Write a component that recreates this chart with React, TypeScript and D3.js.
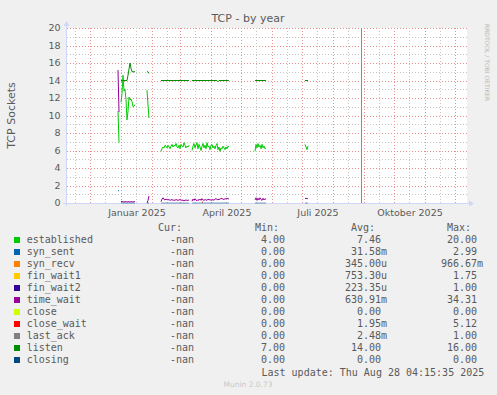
import React from "react";
import * as d3 from "d3";

type Run = { start: string; values: number[] };

// legend table
const fieldNames = ["established", "syn_sent", "syn_recv", "fin_wait1", "fin_wait2", "time_wait", "close", "close_wait", "last_ack", "listen", "closing"];
const fieldColors = ["#00CC00", "#0066B3", "#FF8000", "#FFCC00", "#330099", "#990099", "#CCFF00", "#FF0000", "#808080", "#008F00", "#00487D"];
const curValues = ["-nan", "-nan", "-nan", "-nan", "-nan", "-nan", "-nan", "-nan", "-nan", "-nan", "-nan"];
const minValues = ["4.00", "0.00", "0.00", "0.00", "0.00", "0.00", "0.00", "0.00", "0.00", "7.00", "0.00"];
const avgValues = ["7.46", "31.58m", "345.00u", "753.30u", "223.35u", "630.91m", "0.00", "1.95m", "2.48m", "14.00", "0.00"];
const maxValues = ["20.00", "2.99", "966.67m", "1.75", "1.00", "34.31", "0.00", "5.12", "1.00", "16.00", "0.00"];

// time axis
const xDomain = ["2024-11-08", "2025-12-13"];
const quarterLabels = ["Januar 2025", "April 2025", "Juli 2025", "Oktober 2025"];
const quarterLabelDates = ["2025-01-17", "2025-04-17", "2025-07-17", "2025-10-17"];
const nowMarker = "2025-08-29";
const lastUpdate = "Last update: Thu Aug 28 04:15:35 2025";

// daily values, one run per stretch of data
const establishedRuns: Run[] = [
  { start: "2024-12-29", values: [10.5, 6.9] },
  { start: "2025-01-01", values: [11.5, 12.5, 14.6, 12.8, 13.0, 11.8, 9.5, 10.5, 12.1, 11.8, 11.9, 11.6, 11.0, 11.1, 11.2] },
  { start: "2025-01-27", values: [12.9, 11.2, 9.7] },
  { start: "2025-02-10", values: [5.9, 6.2, 6.4, 6.3, 6.6, 6.5, 6.3, 6.6, 6.4, 6.2, 6.5, 6.7, 6.4, 6.6, 6.5, 6.8, 6.4, 6.3, 6.6, 6.2, 6.7, 6.5, 6.4, 6.9, 6.6, 6.3, 6.5, 6.4, 6.6] },
  { start: "2025-03-13", values: [6.0, 6.5, 6.8, 6.3, 6.6, 6.9, 6.2, 6.7, 6.4, 6.0, 6.5, 6.8, 6.3, 6.6, 6.2, 6.9, 6.4, 6.5, 6.1, 6.6, 6.7, 6.3, 6.5, 6.2, 6.6, 6.8, 6.1, 6.4, 5.9, 6.3, 6.2, 6.5, 6.3, 6.1, 6.4, 6.2, 6.5, 6.4] },
  { start: "2025-05-15", values: [5.9, 6.7, 6.3, 6.8, 6.4, 6.6, 6.2, 6.7, 6.3, 6.5, 6.2, 6.3] },
  { start: "2025-07-04", values: [6.7, 6.4, 6.1, 6.5] },
];

const synSentRuns: Run[] = [{ start: "2024-12-29", values: [1.45, 1.35] }];

const timeWaitRuns: Run[] = [
  { start: "2024-12-29", values: [15.2, 10.4] },
  { start: "2025-01-01", values: [0.2, 0.15, 0.15, 0.1, 0.15, 0.15, 0.1, 0.15, 0.15, 0.1, 0.15, 0.15, 0.1, 0.15, 0.15] },
  { start: "2025-01-27", values: [0.0, 0.3, 0.8] },
  { start: "2025-02-10", values: [0.15, 0.45, 0.6, 0.4, 0.35, 0.45, 0.4, 0.35, 0.4, 0.3, 0.35, 0.4, 0.3, 0.35, 0.3, 0.4, 0.35, 0.3, 0.35, 0.4, 0.3, 0.35, 0.3, 0.25, 0.3, 0.35, 0.3, 0.3, 0.35] },
  { start: "2025-03-13", values: [0.2, 0.45, 0.3, 0.5, 0.35, 0.25, 0.4, 0.3, 0.45, 0.3, 0.5, 0.35, 0.3, 0.4, 0.35, 0.3, 0.45, 0.35, 0.4, 0.3, 0.35, 0.4, 0.3, 0.45, 0.5, 0.4, 0.35, 0.45, 0.4, 0.55, 0.5, 0.45, 0.4, 0.5, 0.45, 0.55, 0.5, 0.45] },
  { start: "2025-05-15", values: [0.35, 0.6, 0.3, 0.55, 0.35, 0.6, 0.4, 0.3, 0.55, 0.35, 0.5, 0.4] },
  { start: "2025-07-04", values: [0.5, 0.55, 0.5, 0.5] },
];

const closeWaitRuns: Run[] = [{ start: "2025-03-23", values: [0.1, 0.1] }];

const listenRuns: Run[] = [
  { start: "2025-01-01", values: [14, 14, 14, 14, 14, 14, 14, 14.6, 15.3, 16, 15.4, 15, 15, 15, 15] },
  { start: "2025-01-27", values: [15, 15, 14.8] },
  { start: "2025-02-10", values: [14, 14, 14, 14, 14, 14, 14, 14, 14, 14, 14, 14, 14, 14, 14, 14, 14, 14, 14, 14, 14, 14, 14, 14, 14, 14, 14, 14, 14] },
  { start: "2025-03-13", values: [14, 14, 14, 14, 14, 14, 14, 14, 14, 14, 14, 14, 14, 14, 14, 14, 14, 14, 14, 14, 14, 14, 14, 14, 14, 14, 13.85, 14, 14, 14, 14, 14, 14, 14, 14, 14, 14, 14] },
  { start: "2025-05-15", values: [14, 14, 14, 14, 14, 14, 14, 14, 14, 14, 14, 14] },
  { start: "2025-07-04", values: [14, 14, 14, 14] },
];

// the idle states (closing etc.) sit at zero while data exists
const idleSpans = [
  ["2025-01-01", "2025-01-15"],
  ["2025-01-27", "2025-01-29"],
  ["2025-02-10", "2025-03-10"],
  ["2025-03-13", "2025-04-19"],
  ["2025-05-15", "2025-05-26"],
  ["2025-07-04", "2025-07-07"],
];

const W = 497;
const H = 395;
const left = 67, right = 467, top = 28, bottom = 203;
const textColor = "#5a5a5a";
const mono = "'DejaVu Sans Mono', monospace";
const sans = "'DejaVu Sans', sans-serif";
const minorGrid = "#C4C4C4";
const majorGrid = "#E89090";

export default function App() {
  const x = d3.scaleUtc().domain(xDomain.map((d) => new Date(d))).range([left, right]);
  const y = d3.scaleLinear().domain([0, 20]).range([bottom, top]);

  const line = d3.line<{ d: Date; v: number }>().x((p) => x(p.d)).y((p) => y(p.v));
  const pts = (r: Run) => r.values.map((v, i) => ({ d: d3.utcDay.offset(new Date(r.start), i), v }));

  const majorX = d3.utcMonth.range(x.domain()[0], x.domain()[1]);
  const minorX = d3.utcMonth
    .range(d3.utcMonth.offset(x.domain()[0], -1), x.domain()[1])
    .map((m) => d3.utcDay.offset(m, 15))
    .filter((d) => x(d) > left && x(d) < right);
  const yTicks = y.ticks(20).filter((v) => v > 0);
  const yLabels = y.ticks(10);

  const seriesRuns: [Run[], string][] = [
    [establishedRuns, fieldColors[0]],
    [synSentRuns, fieldColors[1]],
    [timeWaitRuns, fieldColors[5]],
    [closeWaitRuns, fieldColors[7]],
    [listenRuns, fieldColors[9]],
  ];

  const crisp = (v: number) => Math.round(v) + 0.5;
  const rowY = (i: number) => 243 + i * 12;
  const colEnds = [188, 285, 381, 477];
  const colHeads = ["Cur:", "Min:", "Avg:", "Max:"];
  const cols = [curValues, minValues, avgValues, maxValues];
  const splitVal = (s: string) => {
    const m = s.match(/^(.*?)([munkMG]?)$/);
    return m ? [m[1], m[2]] : [s, ""];
  };

  return (
    <svg width={W} height={H} style={{ position: "absolute", left: 0, top: 0 }} xmlns="http://www.w3.org/2000/svg">
      <rect width={W} height={H} fill="#F0F0F0" />
      <rect x={left} y={top} width={right - left} height={bottom - top} fill="#FFFFFF" />

      {/* grid */}
      <g strokeDasharray="1 2" shapeRendering="crispEdges" strokeWidth={1}>
        {yTicks.map((v) => (
          <line key={"gy" + v} x1={left} x2={right} y1={crisp(y(v))} y2={crisp(y(v))}
            stroke={v % 2 === 0 ? majorGrid : minorGrid} />
        ))}
        {minorX.map((d) => (
          <line key={"mx" + d.getTime()} x1={crisp(x(d))} x2={crisp(x(d))} y1={top} y2={bottom} stroke={minorGrid} />
        ))}
        {majorX.map((d) => (
          <line key={"Mx" + d.getTime()} x1={crisp(x(d))} x2={crisp(x(d))} y1={top} y2={bottom} stroke={majorGrid} />
        ))}
      </g>

      {/* axes */}
      <line x1={left - 4} x2={right + 2} y1={bottom + 0.5} y2={bottom + 0.5} stroke="#CFD6F8" />
      <line x1={left - 0.5} x2={left - 0.5} y1={bottom + 3} y2={top - 4} stroke="#CFD6F8" />
      <path d={`M${right + 2},${bottom - 2.5} L${right + 7},${bottom + 0.5} L${right + 2},${bottom + 3.5} Z`} fill="#CFD6F8" />
      <path d={`M${left - 3.5},${top - 2} L${left - 0.5},${top - 7} L${left + 2.5},${top - 2} Z`} fill="#CFD6F8" />

      {/* data */}
      <g fill="none" strokeWidth={1}>
        {seriesRuns.map(([runs, color], si) =>
          runs.map((r, ri) => <path key={si + "-" + ri} d={line(pts(r)) || ""} stroke={color} />)
        )}
        {idleSpans.map(([a, b]) => (
          <path key={"idle" + a} d={line([{ d: new Date(a), v: 0 }, { d: new Date(b), v: 0 }]) || ""} stroke={fieldColors[10]} strokeOpacity={0.5} />
        ))}
      </g>

      {/* now marker */}
      <line x1={crisp(x(new Date(nowMarker)))} x2={crisp(x(new Date(nowMarker)))} y1={top} y2={bottom} stroke="#8C8C8C" shapeRendering="crispEdges" />

      {/* tick labels */}
      <g fontFamily={sans} fontSize={9.5} fill={textColor}>
        {yLabels.map((v) => (
          <text key={"yl" + v} x={60.5} y={y(v) + 3.4} textAnchor="end">{v}</text>
        ))}
        {quarterLabels.map((t, i) => (
          <text key={t} x={x(new Date(quarterLabelDates[i]))} y={216} textAnchor="middle">{t}</text>
        ))}
      </g>

      {/* titles */}
      <text x={248} y={21.5} textAnchor="middle" fontFamily={sans} fontSize={11} fill={textColor}>TCP - by year</text>
      <text transform={`translate(15,${(top + bottom) / 2}) rotate(-90)`} textAnchor="middle" fontFamily={sans} fontSize={11} fill={textColor}>TCP Sockets</text>
      <text transform="translate(484.5,24) rotate(90)" fontFamily={sans} fontSize={6} fill="#BBBBBB">RRDTOOL / TOBI OETIKER</text>

      {/* legend */}
      <g fontFamily={mono} fontSize={10} fill={textColor}>
        {colHeads.map((h, c) => (
          <text key={h} x={colEnds[c] - 30} y={231}>{h}</text>
        ))}
        {fieldNames.map((name, i) => (
          <g key={name}>
            <rect x={14} y={rowY(i) - 6} width={6} height={6} fill={fieldColors[i]} />
            <text x={26.7} y={rowY(i)}>{name}</text>
            {cols.map((col, c) => {
              const [num, suf] = splitVal(col[i]);
              return (
                <g key={c}>
                  <text x={colEnds[c]} y={rowY(i)} textAnchor="end">{num}</text>
                  {suf && <text x={colEnds[c]} y={rowY(i)}>{suf}</text>}
                </g>
              );
            })}
          </g>
        ))}
        <text x={261.5} y={375.5}>{lastUpdate}</text>
      </g>
      <text x={248} y={387} textAnchor="middle" fontFamily={sans} fontSize={7.5} fill="#C8C8C8">Munin 2.0.73</text>
    </svg>
  );
}
